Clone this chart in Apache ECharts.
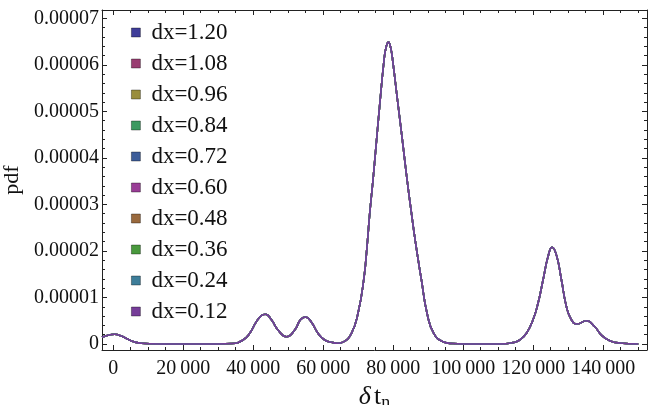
<!DOCTYPE html>
<html>
<head>
<meta charset="utf-8">
<title>pdf</title>
<script src="https://cdn.jsdelivr.net/npm/echarts@6/dist/echarts.min.js"></script>
<style>
  html, body { margin: 0; padding: 0; background: #fff; }
  #chart { width: 648px; height: 405px; }
</style>
</head>
<body>
<div id="chart"></div>
<script>
// legend entries (all ten curves lie on top of each other)
var dxLabels = ['dx=1.20', 'dx=1.08', 'dx=0.96', 'dx=0.84', 'dx=0.72',
                'dx=0.60', 'dx=0.48', 'dx=0.36', 'dx=0.24', 'dx=0.12'];
var dxColors = ['#3f3d99', '#993d71', '#998d3d', '#3d9961', '#3d5d99',
                '#993d96', '#99693d', '#49993d', '#3d7d99', '#763d99'];

// delta t_n and pdf
var dtValues = [-3200, -1500, 430, 2340, 4230, 6140, 8060, 12800, 20000, 30000,
                34000, 37090, 39000, 40910, 42340, 43480, 45200, 47090, 49480, 51860,
                53480, 54910, 56630, 58510, 60430, 62800, 64000, 65660, 68060, 69940,
                71570, 72510, 73290, 74230, 75000, 76140, 77290, 77900, 78630,
                79300, 79940, 81090, 82430, 83370, 84140, 84910, 86430, 88060, 89660,
                91570, 94230, 97000, 100000, 105000, 110430, 114230, 116140, 118060, 119940,
                121370, 122800, 124230, 125370, 126630, 128060, 129490, 130910, 132510, 135200,
                137570, 139490, 141860, 144710, 150000];
var pdfValues = [1.44e-6, 1.9e-6, 2.1e-6, 1.7e-6, 1.0e-6, 0.43e-6, 0.15e-6, 0, 0, 0,
                 0.1e-6, 0.86e-6, 2.3e-6, 4.8e-6, 6.1e-6, 6.4e-6, 5.2e-6, 3.0e-6, 1.57e-6, 3.0e-6,
                 5.2e-6, 5.8e-6, 4.7e-6, 2.3e-6, 0.86e-6, 0.3e-6, 0.15e-6, 0.4e-6, 2.3e-6, 6.6e-6,
                 13.8e-6, 20.9e-6, 28.1e-6, 35.3e-6, 41.8e-6, 51.4e-6, 60.4e-6, 63.6e-6, 64.9e-6,
                 63.6e-6, 60.4e-6, 53.2e-6, 45.0e-6, 39.0e-6, 34.2e-6, 29.8e-6, 21.5e-6, 13.76e-6, 6.6e-6,
                 2.3e-6, 0.5e-6, 0.1e-6, 0, 0, 0, 0.3e-6, 0.86e-6, 2.3e-6, 5.2e-6,
                 8.75e-6, 13.76e-6, 18.8e-6, 20.8e-6, 19.1e-6, 13.76e-6, 8.0e-6, 5.2e-6, 4.3e-6, 5.0e-6,
                 3.7e-6, 1.9e-6, 0.7e-6, 0.2e-6, 0];

var xTickValues = [0, 20000, 40000, 60000, 80000, 100000, 120000, 140000];
var yTickValues = [0, 0.00001, 0.00002, 0.00003, 0.00004, 0.00005, 0.00006, 0.00007];

var xMin = -3200, xMax = 152500;
var yMin = -1.29e-6, yMax = 7.18e-5;

var xMinor = [];
for (var i = 5000; i <= 150000; i += 5000) if (i % 20000) xMinor.push(i);
var yMinor = [];
for (var j = 1; j <= 35; j++) if (j % 5) yMinor.push(j * 2e-6);

var serif = 'Liberation Serif';

function tickAxis(pos, min, max, ticks, len, line) {
  return {
    type: 'value', position: pos, min: min, max: max,
    axisLine: { show: line, onZero: false, lineStyle: { color: '#222', width: 1 } },
    axisTick: { inside: true, length: len, customValues: ticks, lineStyle: { color: '#222', width: 1 } },
    axisLabel: { show: false },
    splitLine: { show: false }
  };
}

var xMain = tickAxis('bottom', xMin, xMax, xTickValues, 5, true);
xMain.axisLabel = {
  show: true, customValues: xTickValues, margin: 9,
  fontFamily: serif, fontSize: 20, color: '#111',
  formatter: function (v) { return String(v).replace(/(\d)(?=(\d{3})+$)/g, '$1\u2009'); }
};
xMain.name = '{d|δ} {t|t}{n|n}';
xMain.nameLocation = 'middle';
xMain.nameGap = 28;
xMain.nameTextStyle = {
  rich: {
    d: { fontFamily: serif, fontSize: 26, fontStyle: 'italic', color: '#111' },
    t: { fontFamily: serif, fontSize: 26, color: '#111' },
    n: { fontFamily: serif, fontSize: 18, color: '#111', padding: [12, 0, 0, 0] }
  }
};

var yMain = tickAxis('left', yMin, yMax, yTickValues, 5, true);
yMain.axisLabel = {
  show: true, customValues: yTickValues, margin: 3,
  fontFamily: serif, fontSize: 20, color: '#111',
  formatter: function (v) { return v === 0 ? '0' : v.toFixed(5); }
};
yMain.name = 'pdf';
yMain.nameLocation = 'middle';
yMain.nameGap = 71;
yMain.nameTextStyle = { fontFamily: serif, fontSize: 22, color: '#111' };

var series = dxLabels.map(function (name, k) {
  return {
    name: name, type: 'line', xAxisIndex: 0, yAxisIndex: 0,
    data: dtValues.map(function (t, m) { return [t, pdfValues[m]]; }),
    showSymbol: false, smooth: 0.5,
    itemStyle: { color: dxColors[k] },
    lineStyle: { width: 1.6, color: dxColors[k] }
  };
});

var chart = echarts.init(document.getElementById('chart'));
chart.setOption({
  animation: false,
  grid: { left: 102, top: 10, right: 1, bottom: 55, containLabel: false, outerBoundsMode: 'none' },
  xAxis: [xMain,
          tickAxis('bottom', xMin, xMax, xMinor, 3, false),
          tickAxis('top', xMin, xMax, xTickValues, 5, true),
          tickAxis('top', xMin, xMax, xMinor, 3, false)],
  yAxis: [yMain,
          tickAxis('left', yMin, yMax, yMinor, 3, false),
          tickAxis('right', yMin, yMax, yTickValues, 5, true),
          tickAxis('right', yMin, yMax, yMinor, 3, false)],
  legend: {
    orient: 'vertical', left: 126, top: 16,
    icon: 'rect', itemWidth: 9, itemHeight: 9, itemGap: 8,
    textStyle: { fontFamily: serif, fontSize: 23, color: '#111', padding: [0, 0, 0, 6] },
    data: dxLabels.map(function (name, k) {
      return { name: name, itemStyle: { color: dxColors[k], borderColor: 'rgba(0,0,0,0.45)', borderWidth: 0.8 } };
    })
  },
  series: series
});
</script>
</body>
</html>
